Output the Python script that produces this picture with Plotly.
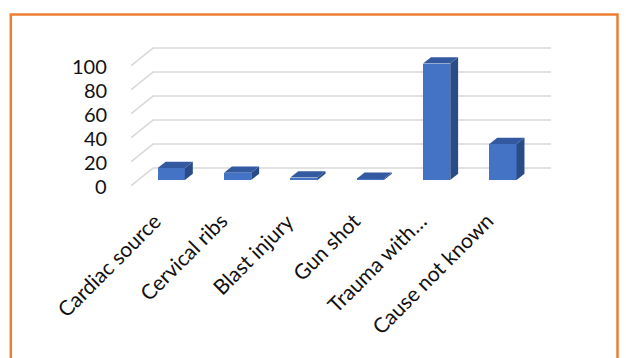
import plotly.graph_objects as go

# ---- data ----
categories = ["Cardiac source", "Cervical ribs", "Blast injury", "Gun shot", "Trauma with…", "Cause not known"]
values = [10, 6, 2, 1, 97, 30]
y_ticks = [0, 20, 40, 60, 80, 100]

# ---- geometry / style constants ----
PX_PER_CAT = 66.33
PX_PER_UNIT = 1.2
DEPTH_DX = 22 / PX_PER_CAT        # full floor depth, in category units
DEPTH_DY = 17.6 / PX_PER_UNIT     # full floor depth, in value units
BAR_FRONT, BAR_BACK = 0.32, 0.68  # bar depth fractions
BAR_W = 0.41
FLOOR_LEFT, FLOOR_RIGHT = -0.5, 5.5
FRONT_C, SIDE_C, TOP_C = "#4472C4", "#2B4B86", "#3359A0"
GRID_C = "#D9D9D9"
FONT = "Lato"


def off(depth):
    return ((depth - BAR_FRONT) * DEPTH_DX, (depth - BAR_FRONT) * DEPTH_DY)


fig = go.Figure()

# back wall + left side gridlines (below the bars)
fx, fy = off(0.0)
bx, by = off(1.0)
for t in y_ticks:
    fig.add_shape(type="path", xref="x", yref="y", layer="below",
                  path=f"M {FLOOR_LEFT + fx},{t + fy} L {FLOOR_LEFT + bx},{t + by} L {FLOOR_RIGHT + bx},{t + by}",
                  line=dict(color=GRID_C, width=1.6))

# bars: side & top faces
ddx = (BAR_BACK - BAR_FRONT) * DEPTH_DX
ddy = (BAR_BACK - BAR_FRONT) * DEPTH_DY
h = BAR_W / 2
for i, v in enumerate(values):
    fig.add_trace(go.Scatter(
        x=[i + h, i + h, i + h + ddx, i + h + ddx, i + h],
        y=[0, v, v + ddy, ddy, 0],
        fill="toself", fillcolor=SIDE_C, mode="lines", line=dict(width=0, color=SIDE_C),
        hoverinfo="skip", showlegend=False))
    fig.add_trace(go.Scatter(
        x=[i - h, i + h, i + h + ddx, i - h + ddx, i - h],
        y=[v, v, v + ddy, v + ddy, v],
        fill="toself", fillcolor=TOP_C, mode="lines", line=dict(width=0, color=TOP_C),
        hoverinfo="skip", showlegend=False))

# bars: front faces
fig.add_trace(go.Bar(x=list(range(len(values))), y=values, width=BAR_W,
                     marker=dict(color=FRONT_C, line=dict(width=0)),
                     hoverinfo="skip", showlegend=False))

# y tick labels (front plane)
for t in y_ticks:
    fig.add_annotation(x=FLOOR_LEFT + fx, y=t + fy, text=str(t), showarrow=False,
                       xanchor="right", yanchor="middle", xshift=-22,
                       font=dict(family=FONT, size=20, color="#111111"))

# category labels
for i, c in enumerate(categories):
    fig.add_annotation(x=i, y=-21.0, text=c, showarrow=False, textangle=-45,
                       xanchor="right", yanchor="top", xshift=-3,
                       font=dict(family=FONT, size=21, color="#111111"))

# orange frame
fig.add_shape(type="rect", xref="paper", yref="paper",
              x0=10.8 / 626, x1=617.5 / 626, y0=-0.05, y1=1 - 14.5 / 358,
              line=dict(color="#ED7D31", width=2.5), fillcolor="rgba(0,0,0,0)")

x0 = -171.3 / PX_PER_CAT
x1 = (626 - 171.3) / PX_PER_CAT
y0 = -(358 - 180) / PX_PER_UNIT
y1 = 180 / PX_PER_UNIT
fig.update_layout(
    width=626, height=358, margin=dict(l=0, r=0, t=0, b=0, pad=0),
    paper_bgcolor="white", plot_bgcolor="white", bargap=0,
    xaxis=dict(range=[x0, x1], visible=False, fixedrange=True),
    yaxis=dict(range=[y0, y1], visible=False, fixedrange=True),
)

fig.write_html("out.html")
